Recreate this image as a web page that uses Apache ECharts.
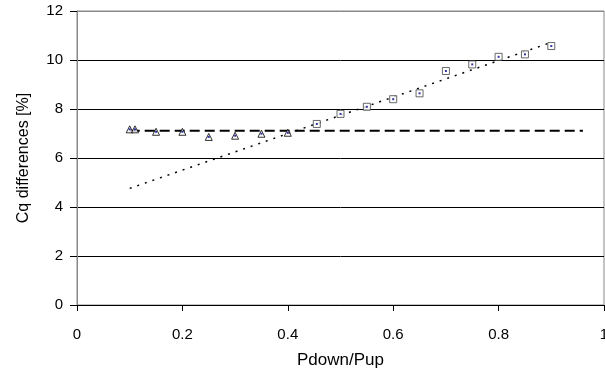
<!DOCTYPE html>
<html>
<head>
<meta charset="utf-8">
<script src="https://cdn.jsdelivr.net/npm/echarts@6/dist/echarts.min.js"></script>
<style>
  * { margin: 0; padding: 0; }
  body { background: #fff; }
</style>
</head>
<body>
<!-- chart container -->
<div id="main" style="width: 605px;height: 378px;"></div>
<script>
  // triangles (low ratio)
  var triX = [0.1, 0.11, 0.15, 0.2, 0.25, 0.3, 0.35, 0.4];
  var triY = [7.17, 7.17, 7.07, 7.07, 6.86, 6.91, 6.99, 7.03];
  // squares (high ratio)
  var sqX = [0.455, 0.5, 0.55, 0.6, 0.65, 0.7, 0.75, 0.8, 0.85, 0.9];
  var sqY = [7.39, 7.8, 8.09, 8.4, 8.64, 9.55, 9.82, 10.13, 10.23, 10.57];
  // dashed level line and dotted trend line end points
  var levelX = [0.1, 0.96];
  var levelY = [7.11, 7.11];
  var trendX = [0.1, 0.9];
  var trendY = [4.76, 10.72];
  var yTicks = [0, 2, 4, 6, 8, 10, 12];

  function pairs(xs, ys) {
    var out = [];
    for (var i = 0; i < xs.length; i++) out.push([xs[i], ys[i]]);
    return out;
  }

  var font = 'Liberation Sans, Arial, sans-serif';
  var mycharts = echarts.init(document.getElementById('main'));
  var option = {
    animation: false,
    grid: {
      left: 77, right: 1, top: 11, bottom: 73,
      outerBoundsMode: 'none',
      containLabel: false,
      show: true,
      borderColor: '#888',
      borderWidth: 1
    },
    xAxis: {
      type: 'value',
      min: 0, max: 1, interval: 0.2,
      name: 'Pdown/Pup',
      nameLocation: 'middle',
      nameGap: 47,
      nameTextStyle: { color: '#000', fontSize: 17, fontFamily: font },
      axisLine: { lineStyle: { color: '#000', width: 1 } },
      axisTick: { show: true, length: 6, lineStyle: { color: '#000' } },
      axisLabel: { color: '#000', fontSize: 15, fontFamily: font, margin: 22, alignMaxLabel: 'center' },
      splitLine: { show: false }
    },
    yAxis: {
      type: 'value',
      min: yTicks[0], max: yTicks[yTicks.length - 1], interval: 2,
      name: 'Cq differences [%]',
      nameLocation: 'middle',
      nameGap: 45,
      nameTextStyle: { color: '#000', fontSize: 16, fontFamily: font },
      axisLine: { show: true, lineStyle: { color: '#888', width: 1 } },
      axisTick: { show: true, length: 7, lineStyle: { color: '#000' } },
      axisLabel: { color: '#000', fontSize: 15, fontFamily: font, margin: 14 },
      splitLine: {
        show: true,
        lineStyle: { color: ['#000', '#000', '#000', '#000', '#000', '#000', '#888'], width: 1 }
      }
    },
    series: [
      {
        type: 'line',
        data: pairs(trendX, trendY),
        symbol: 'none',
        lineStyle: { color: '#000', width: 1.5, type: [2, 6] },
        z: 2
      },
      {
        type: 'line',
        data: pairs(levelX, levelY),
        symbol: 'none',
        lineStyle: { color: '#000', width: 2, type: [10, 5] },
        z: 2
      },
      {
        type: 'scatter',
        data: pairs(triX, triY),
        symbol: 'triangle',
        symbolSize: 7,
        itemStyle: { color: '#fff', borderColor: '#000', borderWidth: 1 },
        z: 3
      },
      {
        type: 'scatter',
        data: pairs(sqX, sqY),
        symbol: 'rect',
        symbolSize: 7,
        itemStyle: { color: '#fff', borderColor: '#444', borderWidth: 1 },
        z: 3
      },
      {
        type: 'scatter',
        data: pairs(triX.concat(sqX), triY.concat(sqY)),
        symbol: 'rect',
        symbolSize: 2,
        itemStyle: { color: '#00008b' },
        z: 4
      }
    ]
  };
  mycharts.setOption(option);
</script>
</body>
</html>
